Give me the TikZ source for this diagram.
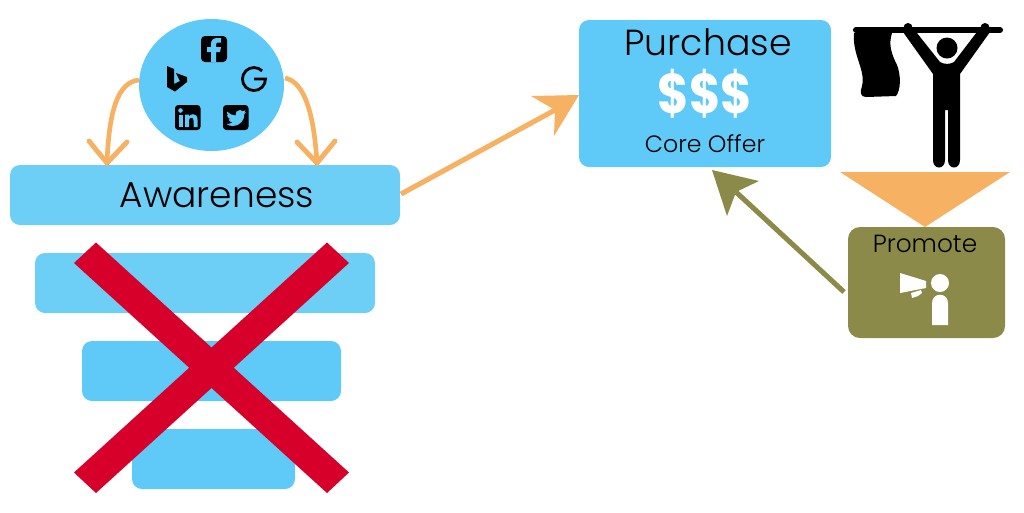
\documentclass[tikz,border=0pt]{standalone}
\usepackage{fontspec}
\setmainfont{Poppins Light}
\newfontfamily\heavyfont{Poppins Bold}
\definecolor{skyA}{HTML}{6DCFF6}
\definecolor{skyB}{HTML}{5FC9F7}
\definecolor{peach}{HTML}{F6B162}
\definecolor{olive}{HTML}{8C8A48}
\definecolor{crossred}{HTML}{D6002A}
\tikzset{
  px/.style={x=0.75pt,y=-0.75pt},
  bar/.style={rounded corners=7.5pt,draw=none},
  label/.style={text=black,inner sep=0pt,anchor=center},
  icon/.style={fill=black,draw=none},
  cut/.style={fill=skyB,draw=none},
}
\begin{document}
\begin{tikzpicture}[px]
\useasboundingbox (0,0) rectangle (1024,512);
% bars
\fill[skyA,bar] (10,165) rectangle (400,225);
\fill[skyA,bar] (35,253) rectangle (375,313);
\fill[skyB,bar] (82,341) rectangle (341,401);
\fill[skyB,bar] (132,429) rectangle (295,489);
\node[label,font=\fontsize{27}{30}\selectfont] (aware) at (217,195) {Awareness};
% cross
\fill[crossred] (96,242.5) -- (349,472.5) -- (327,493) -- (74,263) -- cycle;
\fill[crossred] (327,242.5) -- (349,263) -- (96,493) -- (74,472.5) -- cycle;
% circle
\fill[skyB] (211.5,85) ellipse [x radius=72.5,y radius=66];
\coordinate (srcL) at (139,80);
\coordinate (srcR) at (285,78);
\coordinate (awL) at (107,163);
\coordinate (awR) at (317,163);
\fill[black] (105,162.5) rectangle (109,165);
\fill[black] (315,162.5) rectangle (319,165);
\draw[peach,line width=3.5pt] (srcL) .. controls (118,82) and (109,110) .. (awL);
\draw[peach,line width=3.5pt] (srcR) .. controls (305,82) and (314,115) .. (awR);
\draw[peach,line width=3.7pt,line cap=round] (89,141) -- (awL) -- (127,142);
\draw[peach,line width=3.7pt,line cap=round] (297,142) -- (awR) -- (335,141);
% facebook
\fill[icon,rounded corners=3pt] (201,36) rectangle (227,62);
\fill[cut] (216,62) -- (216,52) -- (220,52) -- (221,47) -- (216,47) -- (216,44.5) .. controls (216,43) and (217,42.5) .. (218,42.5) -- (221,42.5) -- (221,38) -- (217,38) .. controls (213,38) and (211,40.5) .. (211,44) -- (211,47) -- (207,47) -- (207,52) -- (211,52) -- (211,62) -- cycle;
% bing
\fill[icon] (167,66) -- (174,69) -- (174,84) -- (180,81) -- (176,73) -- (187,77) -- (187,82) -- (175,91.5) -- (167,87) -- cycle;
% google
\draw[black,line width=2.1pt] (262.1,70.9) arc [start angle=-45,end angle=-360,radius=11.5] -- (254,79);
% linkedin
\fill[icon,rounded corners=2.5pt] (175,105) rectangle (200.5,130);
\fill[cut] (178.5,114.5) rectangle (182.5,127);
\fill[cut] (180.5,110.5) circle (2.3);
\fill[cut] (185,114.5) -- (189,114.5) -- (189,116.5) .. controls (190,115) and (191.5,114.2) .. (193,114.2) .. controls (196,114.2) and (197.5,116) .. (197.5,119.5) -- (197.5,127) -- (193.5,127) -- (193.5,120.5) .. controls (193.5,118.5) and (192.8,117.7) .. (191.4,117.7) .. controls (190,117.7) and (189,118.7) .. (189,120.5) -- (189,127) -- (185,127) -- cycle;
% twitter
\fill[icon,rounded corners=2.5pt] (223,105) rectangle (248.5,130);
\fill[cut] (227,111.5) .. controls (229.5,114) and (232.5,115.5) .. (235.5,115.5) .. controls (235,112.5) and (237,110) .. (240,110) .. controls (241.2,110) and (242.2,110.5) .. (243,111.2) -- (245.5,110.2) -- (244.2,112.5) -- (246,112) -- (244.4,114) .. controls (244.6,120) and (240,126) .. (233,126) .. controls (230.5,126) and (228.2,125.3) .. (226.5,124) .. controls (229,124.2) and (231,123.5) .. (232.5,122.3) .. controls (230.5,122.2) and (229,121) .. (228.5,119.3) -- (230.5,119.2) .. controls (228.5,118.5) and (227,116.8) .. (227,114.7) -- (229,115.2) .. controls (227,114) and (226.5,113) .. (227,111.5) -- cycle;
% main arrows
\coordinate (arrA) at (401,194);
\coordinate (purL) at (579,95);
\coordinate (proL) at (844,292);
\coordinate (purB) at (712,170);
\coordinate (notchA) at (555,110);
\coordinate (notchB) at (736,192);
\draw[peach,line width=3.8pt] (arrA) -- (notchA);
\fill[peach] (purL) -- (531,96) -- (notchA) -- (554,136) -- cycle;
\draw[olive,line width=3.8pt] (proL) -- (notchB);
\fill[olive] (purB) -- (759,181) -- (notchB) -- (727,216) -- cycle;
% purchase
\fill[skyB,rounded corners=7.5pt] (579,20) rectangle (831,167);
\node[label,font=\fontsize{27.2}{30}\selectfont] (pur) at (708,42) {Purchase};
\node[label,text=white,font=\fontsize{42}{46}\selectfont\heavyfont] (dollars) at (705,94) {\scalebox{0.86}[1]{\$\$\$}};
\node[label,font=\fontsize{17.7}{20}\selectfont] (core) at (705,144) {Core Offer};
% person with flag
\draw[black,line width=4.5pt,line cap=round] (856,30) -- (1000,30);
\fill[black] (908,27.5) circle (4.5);
\fill[black] (985,27.5) circle (4.5);
\fill[black] (947,48) circle (10.5);
\fill[black] (903,32) -- (913,28) -- (940,62) .. controls (944,64.5) and (950,64.5) .. (954,62) -- (980,28) -- (990,32) -- (960,74) -- (960,160) .. controls (960,170) and (948,170) .. (948,160) -- (948,110) -- (945,110) -- (945,160) .. controls (945,170) and (933,170) .. (933,160) -- (933,74) -- cycle;
\fill[black] (854,33) -- (892,33) .. controls (888,45) and (892,55) .. (897,65) .. controls (901,75) and (901,90) .. (896,96) -- (866,97) .. controls (860,97) and (860,92) .. (862,86) .. controls (866,70) and (852,55) .. (854,33) -- cycle;
% funnel
\fill[peach] (840,172) -- (1010,172) -- (925,227) -- cycle;
% promote
\fill[olive,rounded corners=9pt] (848,227) rectangle (1005,338);
\node[label,font=\fontsize{18.6}{20}\selectfont] (pro) at (925,244) {Promote};
\fill[white] (900,273) -- (926,281) -- (926,288) -- (900,293) -- cycle;
\fill[white] (911,293) -- (921,290) -- (922,293) -- (918,296) -- (912,298) -- cycle;
\fill[white] (940,283) circle (9);
\fill[white] (932,325) -- (932,303) .. controls (932,292) and (948,292) .. (948,303) -- (948,325) -- cycle;
\end{tikzpicture}
\end{document}
